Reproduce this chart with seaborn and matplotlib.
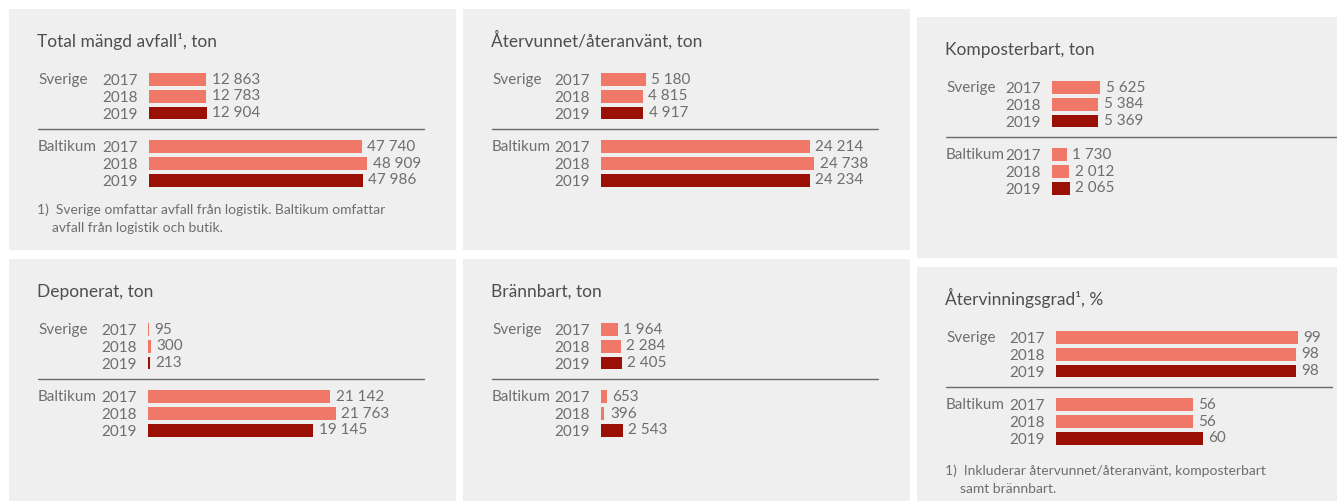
import matplotlib
matplotlib.use("Agg")
import matplotlib.pyplot as plt
from matplotlib.patches import Rectangle
from matplotlib.transforms import blended_transform_factory
import pandas as pd
import seaborn as sns

# ---- data -------------------------------------------------------------
regions = ["Sverige", "Baltikum"]
years = ["2017", "2018", "2019"]

titles = [
    "Total mängd avfall\u00b9, ton",
    "Återvunnet/återanvänt, ton",
    "Komposterbart, ton",
    "Deponerat, ton",
    "Brännbart, ton",
    "Återvinningsgrad\u00b9, %",
]

total_sverige = [12863, 12783, 12904]
total_baltikum = [47740, 48909, 47986]
atervunnet_sverige = [5180, 4815, 4917]
atervunnet_baltikum = [24214, 24738, 24234]
kompost_sverige = [5625, 5384, 5369]
kompost_baltikum = [1730, 2012, 2065]
deponerat_sverige = [95, 300, 213]
deponerat_baltikum = [21142, 21763, 19145]
brannbart_sverige = [1964, 2284, 2405]
brannbart_baltikum = [653, 396, 2543]
grad_sverige = [99, 98, 98]
grad_baltikum = [56, 56, 60]

footnote_total = ["1)  Sverige omfattar avfall från logistik. Baltikum omfattar",
                  "avfall från logistik och butik."]
footnote_grad = ["1)  Inkluderar återvunnet/återanvänt, komposterbart",
                 "samt brännbart."]

series = [
    (total_sverige, total_baltikum),
    (atervunnet_sverige, atervunnet_baltikum),
    (kompost_sverige, kompost_baltikum),
    (deponerat_sverige, deponerat_baltikum),
    (brannbart_sverige, brannbart_baltikum),
    (grad_sverige, grad_baltikum),
]
footnotes = [footnote_total, None, None, None, None, footnote_grad]

# ---- style / layout ---------------------------------------------------
W, H = 1337, 501
BG = "#efefef"
LIGHT = "#f07869"
DARK = "#9b1006"
TXT = "#6e6e6e"
TITLE = "#4e4e4e"
palette = {"2017": LIGHT, "2018": LIGHT, "2019": DARK}

# panel boxes in pixels: left, top, width, height
panels = [
    (9, 9, 447, 241),
    (463, 9, 447, 241),
    (917, 17, 420, 241),
    (9, 259, 447, 242),
    (463, 259, 447, 242),
    (917, 267, 420, 234),
]
bar_start = [140, 138, 135, 139, 138, 139]      # bar origin, relative to panel
units_per_px = [224.4, 116.0, 116.0, 116.0, 116.0, 0.409]
PITCH = 16.8          # row spacing (px)
ROW0 = 70.5           # first row centre (px below panel top)
LABEL_X = 29
SEP_END = 415
FS = 11

sns.set_theme(style="white")
plt.rcParams["font.family"] = ["Lato", "DejaVu Sans"]

fig = plt.figure(figsize=(W / 100, H / 100), dpi=100, facecolor="white")


def fx(px):
    return px / W


def fy(py):
    return 1 - py / H


def fmt_num(v):
    return f"{v:,.0f}".replace(",", " ")


slots = [f"{regions[0]} {y}" for y in years] + [" "] + \
        [f"{regions[1]} {y}" for y in years]
ticklabels = years + [""] + years

for i, (px, py, pw, ph) in enumerate(panels):
    fig.patches.append(Rectangle((fx(px), fy(py + ph)), pw / W, ph / H,
                                 transform=fig.transFigure, facecolor=BG,
                                 edgecolor="none", zorder=-10))

    sv, ba = series[i]
    df = pd.DataFrame({
        "slot": [f"{regions[0]} {y}" for y in years] + [f"{regions[1]} {y}" for y in years],
        "year": years + years,
        "value": list(sv) + list(ba),
    })

    left = px + bar_start[i]
    width_px = px + SEP_END - left
    top = py + ROW0 - 0.5 * PITCH
    height_px = 7 * PITCH
    ax = fig.add_axes([fx(left), fy(top + height_px), width_px / W, height_px / H])
    ax.set_facecolor("none")

    sns.barplot(data=df, x="value", y="slot", hue="year", order=slots,
                palette=palette, dodge=False, width=0.76, saturation=1,
                errorbar=None, legend=False, ax=ax,
                edgecolor="none", linewidth=0)

    ax.set_xlim(0, width_px * units_per_px[i])
    ax.set_ylim(6.5, -0.5)
    ax.set_xticks([])
    ax.set_yticks(range(len(slots)))
    ax.set_yticklabels(ticklabels)
    ax.tick_params(axis="y", length=0, pad=8, labelsize=FS, labelcolor=TXT)
    ax.set_xlabel("")
    ax.set_ylabel("")
    for s in ax.spines.values():
        s.set_visible(False)

    for cont in ax.containers:
        ax.bar_label(cont, labels=[fmt_num(b.get_width()) for b in cont],
                     padding=4, fontsize=FS, color=TXT)

    tr = blended_transform_factory(ax.transAxes, ax.transData)
    lx = (px + LABEL_X - left) / width_px
    ax.text(lx, -0.08, regions[0], transform=tr, ha="left", va="center_baseline",
            fontsize=FS, color=TXT)
    ax.text(lx, 3.95, regions[1], transform=tr, ha="left", va="center_baseline",
            fontsize=FS, color=TXT)

    sep_xmax = (W - left) / width_px if i == 2 else 1.0
    ax.axhline(2.93, xmin=lx, xmax=sep_xmax, color="#6a6a6a", lw=1.0,
               clip_on=False)

    fig.text(fx(px + 28), fy(py + 37.5), titles[i], fontsize=12.5,
             color=TITLE, ha="left", va="baseline")

    if footnotes[i]:
        base = 204.5 if i == 0 else 208
        fig.text(fx(px + 28), fy(py + base), footnotes[i][0], fontsize=10,
                 color=TXT, ha="left", va="baseline")
        fig.text(fx(px + 43.5), fy(py + base + 18), footnotes[i][1], fontsize=10,
                 color=TXT, ha="left", va="baseline")

fig.savefig("out.png", dpi=100, facecolor="white")
